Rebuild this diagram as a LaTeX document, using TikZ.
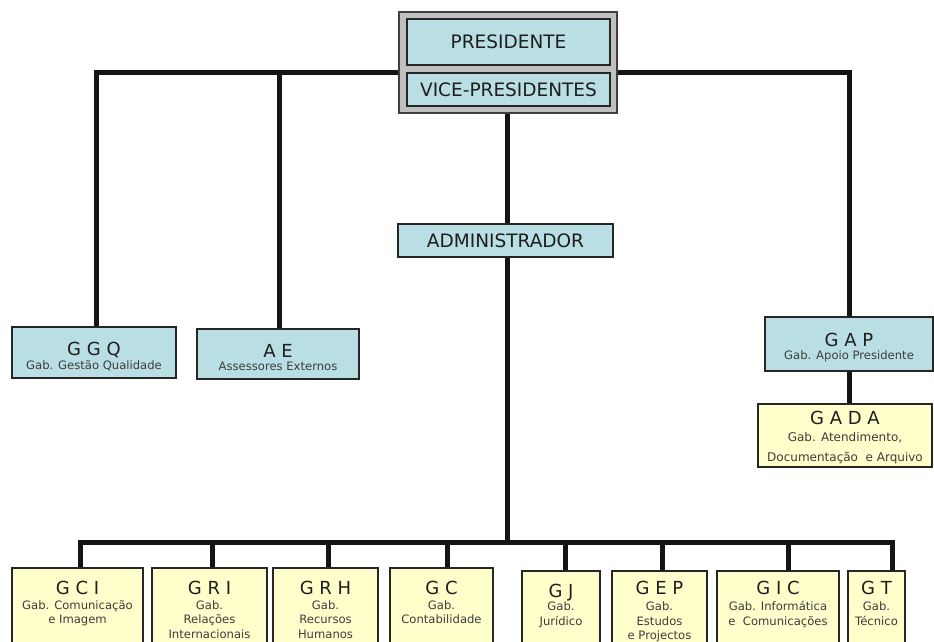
\documentclass[tikz,border=0pt]{standalone}
\usepackage{fontspec}
\setmainfont{DejaVu Sans}
\usetikzlibrary{backgrounds}
\definecolor{boxblue}{RGB}{185,222,228}
\definecolor{boxyellow}{RGB}{255,255,204}
\definecolor{boxgray}{RGB}{192,192,192}
\definecolor{txtdark}{RGB}{30,30,30}
\definecolor{txtsub}{RGB}{60,60,60}
\newcommand\fBig{\fontsize{18.5}{20}\selectfont}
\newcommand\fAbbr{\fontsize{18}{20}\selectfont}
\newcommand\fSub{\fontsize{11.6}{14.5}\selectfont}
\begin{document}
\begin{tikzpicture}[x=1pt,y=-1pt,
  bluebox/.style={draw=black!85, line width=1.6pt, fill=boxblue, inner sep=0pt, text=txtdark, font=\fBig},
  yellowbox/.style={draw=black!85, line width=1.6pt, fill=boxyellow, inner sep=0pt},
  framebox/.style={draw=black!75, line width=1.2pt, fill=boxgray, inner sep=0pt},
  conn/.style={line width=5pt, black!92, line join=miter},
  abbr/.style={font=\fAbbr, text=txtdark, anchor=base, inner sep=0pt},
  sub/.style={font=\fSub, text=txtsub, align=center, anchor=north, inner sep=0pt},
]
\useasboundingbox (0,0) rectangle (934,641);
\clip (0,0) rectangle (934,641);

% top block
\node[framebox, minimum width=218pt, minimum height=101pt] (frame) at (508,62.5) {};
\node[bluebox, minimum width=203pt, minimum height=46pt] (pres) at (508.5,42) {PRESIDENTE};
\node[bluebox, minimum width=203pt, minimum height=33pt] (vice) at (508.5,89.5) {VICE-PRESIDENTES};
\node[bluebox, minimum width=215pt, minimum height=33pt] (adm) at (505.5,240.5) {ADMINISTRADOR};

% second level
\node[bluebox, minimum width=164pt, minimum height=51pt] (ggq) at (94,352.5) {};
\node[abbr] (ggq-t) at (94,355.5) {G G Q};
\node[sub] (ggq-s) at (94,360) {Gab. Gestão Qualidade};

\node[bluebox, minimum width=162pt, minimum height=50pt] (ae) at (278,354) {};
\node[abbr] (ae-t) at (278,357.5) {A E};
\node[sub] (ae-s) at (278,362) {Assessores Externos};

\node[bluebox, minimum width=168pt, minimum height=54pt] (gap) at (849,344) {};
\node[abbr] (gap-t) at (849,346.5) {G A P};
\node[sub] (gap-s) at (849,350) {Gab. Apoio Presidente};

\node[yellowbox, minimum width=174pt, minimum height=63pt] (gada) at (845,435.5) {};
\node[abbr] (gada-t) at (845,424.5) {G A D A};
\node[sub, font=\fontsize{12}{20}\selectfont] (gada-s) at (845,432.5) {Gab. Atendimento,\\Documentação \ e Arquivo};

% bottom level
\node[yellowbox, minimum width=131pt, minimum height=94pt] (gci) at (77.5,615) {};
\node[abbr] (gci-t) at (77.5,594) {G C I};
\node[sub] (gci-s) at (77.5,600) {Gab. Comunicação\\e Imagem};

\node[yellowbox, minimum width=115pt, minimum height=94pt] (gri) at (209.5,615) {};
\node[abbr] (gri-t) at (209.5,594) {G R I};
\node[sub] (gri-s) at (209.5,600) {Gab.\\Relações\\Internacionais};

\node[yellowbox, minimum width=105pt, minimum height=94pt] (grh) at (325.5,615) {};
\node[abbr] (grh-t) at (325.5,594) {G R H};
\node[sub] (grh-s) at (325.5,600) {Gab.\\Recursos\\Humanos};

\node[yellowbox, minimum width=103pt, minimum height=94pt] (gc) at (441.5,615) {};
\node[abbr] (gc-t) at (441.5,594) {G C};
\node[sub] (gc-s) at (441.5,600) {Gab.\\Contabilidade};

\node[yellowbox, minimum width=78pt, minimum height=91pt] (gj) at (561,616.5) {};
\node[abbr] (gj-t) at (561,597) {G J};
\node[sub] (gj-s) at (561,601.5) {Gab.\\Jurídico};

\node[yellowbox, minimum width=95pt, minimum height=91pt] (gep) at (659.5,616.5) {};
\node[abbr] (gep-t) at (659.5,594) {G E P};
\node[sub] (gep-s) at (659.5,601.5) {Gab.\\Estudos\\e Projectos};

\node[yellowbox, minimum width=122pt, minimum height=91pt] (gic) at (778,616.5) {};
\node[abbr] (gic-t) at (778,594) {G I C};
\node[sub] (gic-s) at (778,601.5) {Gab. Informática\\e \ Comunicações};

\node[yellowbox, minimum width=57pt, minimum height=91pt] (gt) at (876.5,616.5) {};
\node[abbr] (gt-t) at (876.5,594) {G T};
\node[sub] (gt-s) at (876.5,601.5) {Gab.\\Técnico};

% connector coordinates
\coordinate (cx) at (507,0);
\coordinate (tl) at (96,72);
\coordinate (ta) at (279,72);
\coordinate (tr) at (849,72);
\coordinate (b1) at (80,542);
\coordinate (b2) at (212,542);
\coordinate (b3) at (328,542);
\coordinate (b4) at (447,542);
\coordinate (b5) at (565,542);
\coordinate (b6) at (662,542);
\coordinate (b7) at (788,542);
\coordinate (b8) at (892,542);

\begin{pgfonlayer}{background}
\draw[conn] (tl |- ggq.north) -- (tl) -- (tr) -- (tr |- gap.north);
\draw[conn] (ta) -- (ta |- ae.north);
\draw[conn] (frame.south -| cx) -- (adm.north -| cx);
\draw[conn] (adm.south -| cx) -- (cx |- b1);
\draw[conn] (gap.south) -- (gap.south |- gada.north);
\draw[conn] (b1 |- gci.north) -- (b1) -- (b8) -- (b8 |- gt.north);
\draw[conn] (b2) -- (b2 |- gri.north);
\draw[conn] (b3) -- (b3 |- grh.north);
\draw[conn] (b4) -- (b4 |- gc.north);
\draw[conn] (b5) -- (b5 |- gj.north);
\draw[conn] (b6) -- (b6 |- gep.north);
\draw[conn] (b7) -- (b7 |- gic.north);
\end{pgfonlayer}
\end{tikzpicture}
\end{document}
